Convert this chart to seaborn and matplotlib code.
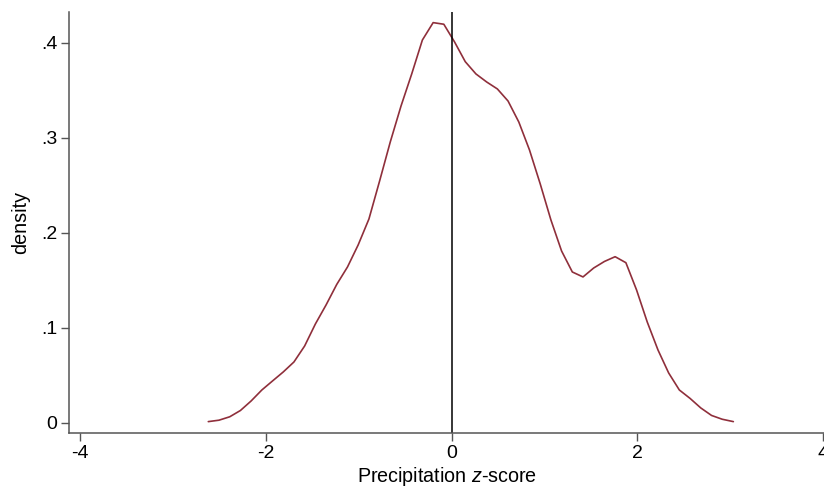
import matplotlib
matplotlib.use("Agg")
import matplotlib.pyplot as plt
import seaborn as sns
import pandas as pd

# Kernel density estimate (50 grid points)
zscore = [-2.621, -2.506, -2.390, -2.275, -2.160, -2.044, -1.929, -1.813,
          -1.698, -1.583, -1.467, -1.352, -1.237, -1.121, -1.006, -0.890,
          -0.775, -0.660, -0.544, -0.429, -0.314, -0.198, -0.083, 0.033,
          0.148, 0.263, 0.379, 0.494, 0.609, 0.725, 0.840, 0.956,
          1.071, 1.186, 1.302, 1.417, 1.532, 1.648, 1.763, 1.879,
          1.994, 2.109, 2.225, 2.340, 2.455, 2.571, 2.686, 2.802,
          2.917, 3.037]
density = [0.0011, 0.0026, 0.0062, 0.0128, 0.0228, 0.0344, 0.0439, 0.0534,
           0.0639, 0.0807, 0.1039, 0.1239, 0.1455, 0.1639, 0.1871, 0.2144,
           0.2544, 0.2955, 0.3334, 0.3671, 0.4028, 0.4211, 0.4194, 0.4007,
           0.3800, 0.3671, 0.3586, 0.3513, 0.3386, 0.3165, 0.2871, 0.2513,
           0.2134, 0.1807, 0.1586, 0.1534, 0.1628, 0.1697, 0.1747, 0.1684,
           0.1397, 0.1060, 0.0765, 0.0523, 0.0344, 0.0255, 0.0155, 0.0076,
           0.0036, 0.0011]

x_ticks = [-4, -2, 0, 2, 4]
x_tick_labels = ["-4", "-2", "0", "2", "4"]
y_ticks = [0, 0.1, 0.2, 0.3, 0.4]
y_tick_labels = ["0", ".1", ".2", ".3", ".4"]

df = pd.DataFrame({"zscore": zscore, "density": density})

sns.set_theme(style="ticks")
plt.rcParams["font.family"] = ["Liberation Sans", "DejaVu Sans"]
plt.rcParams["mathtext.fontset"] = "custom"
plt.rcParams["mathtext.rm"] = "Liberation Sans"
plt.rcParams["mathtext.it"] = "Liberation Sans:italic"

fig = plt.figure(figsize=(8.24, 4.88), dpi=100)
ax = fig.add_axes([69.3 / 824, (488 - 433.3) / 488, 1 - 69.3 / 824, (433.3 - 11.7) / 488])

sns.lineplot(data=df, x="zscore", y="density", ax=ax, color="#8f2f3b",
             linewidth=1.2, estimator=None, sort=False)
ax.axvline(0, color="black", linewidth=1.1)

ax.set_xlim(-4.119, 4.014)
ax.set_ylim(-0.0112, 0.4326)
ax.set_xticks(x_ticks)
ax.set_xticklabels(x_tick_labels)
ax.set_yticks(y_ticks)
ax.set_yticklabels(y_tick_labels)

for s in ["top", "right"]:
    ax.spines[s].set_visible(False)
for s in ["left", "bottom"]:
    ax.spines[s].set_color("#555555")
    ax.spines[s].set_linewidth(1.1)

ax.tick_params(axis="both", which="major", direction="out", length=5.5,
               width=1.0, color="#555555", labelsize=14, pad=3,
               labelcolor="black")
ax.set_xlabel("Precipitation $z$-score", fontsize=14.2, labelpad=2, color="black")
ax.set_ylabel("density", fontsize=14.2, labelpad=8, color="black")

fig.savefig("out.png", dpi=100)
